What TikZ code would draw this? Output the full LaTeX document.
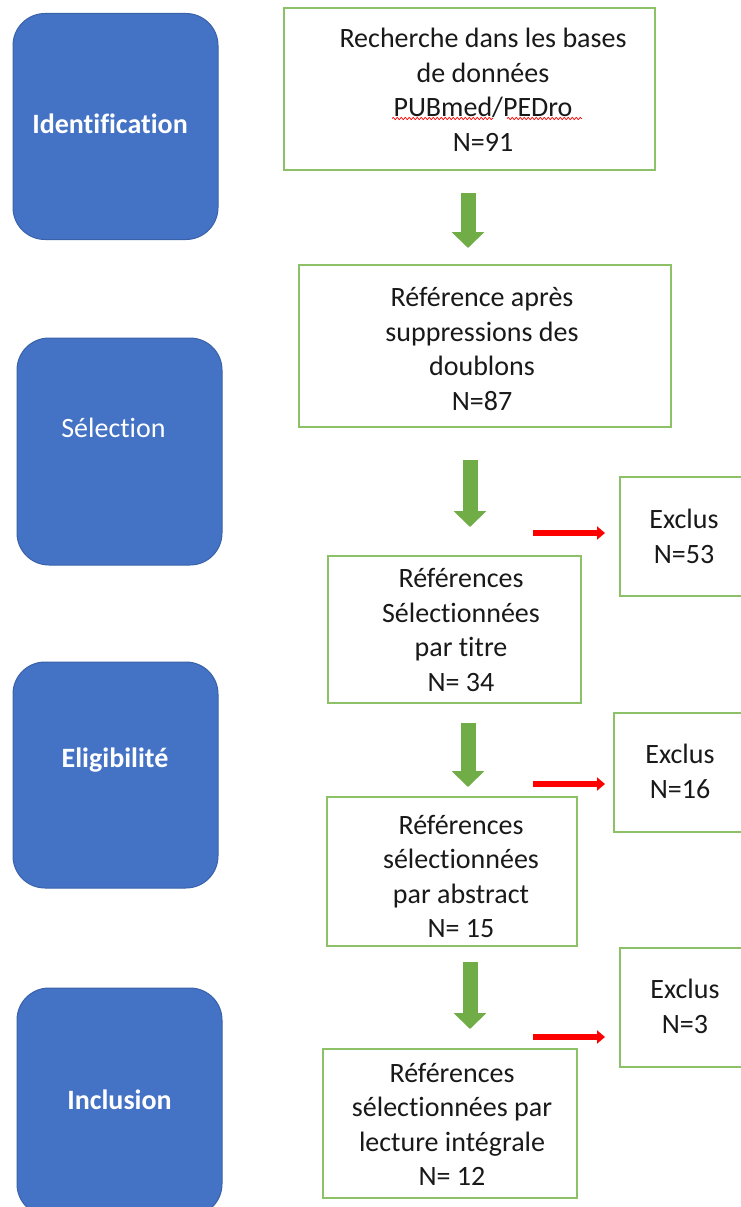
\documentclass[tikz,border=0pt]{standalone}
\usepackage{fontspec}
\setmainfont{Carlito}[Ligatures=NoCommon]
\usetikzlibrary{arrows.meta,decorations.pathmorphing}
\definecolor{bluefill}{HTML}{4472C4}
\definecolor{blueline}{HTML}{3A62AA}
\definecolor{boxgreen}{HTML}{8CC168}
\definecolor{arrowgreen}{HTML}{70AD47}
\definecolor{exred}{HTML}{FF0000}
\tikzset{
  phase/.style={rectangle, rounded corners=32pt, fill=bluefill, draw=blueline, line width=1pt, inner sep=0pt},
  phaselabel/.style={text=white, font=\fontsize{28}{34}\selectfont, inner sep=0pt},
  gbox/.style={rectangle, draw=boxgreen, line width=1.5pt, fill=white, inner sep=0pt},
  txt/.style={align=center, font=\fontsize{28}{34.5}\selectfont, inner sep=0pt, text=black!90},
  flowarrow/.style={draw=arrowgreen, line width=15pt, -{Triangle[width=32pt,length=16pt]}},
  exarrow/.style={draw=exred, line width=6pt, -{Triangle[width=13pt,length=8pt]}},
  squiggle/.style={draw=exred, line width=0.7pt, decorate, decoration={snake, amplitude=1.1pt, segment length=4pt}}
}
\begin{document}
\begin{tikzpicture}[x=1pt,y=-1pt]
\useasboundingbox (0,0) rectangle (740,1207);
% phases
\node[phase, minimum width=205pt, minimum height=226pt] (p1) at (115.5,126.5) {};
\node[phase, minimum width=205pt, minimum height=227pt] (p2) at (119.5,451.5) {};
\node[phase, minimum width=205pt, minimum height=226pt] (p3) at (115.5,775) {};
\node[phase, minimum width=205pt, minimum height=228pt] (p4) at (119.5,1102) {};
\node[phaselabel] (l1) at (110,124) {\textbf{Identification}};
\node[phaselabel] (l2) at (113.5,428) {Sélection};
\node[phaselabel] (l3) at (115,760) {\textbf{Eligibilité}};
\node[phaselabel] (l4) at (119.5,1100) {\textbf{Inclusion}};
% main boxes
\node[gbox, minimum width=371pt, minimum height=162pt] (b1) at (469.5,89) {};
\node[gbox, minimum width=372pt, minimum height=162pt] (b2) at (485,346) {};
\node[gbox, minimum width=253pt, minimum height=147pt] (b3) at (454.5,629.5) {};
\node[gbox, minimum width=250pt, minimum height=149pt] (b4) at (452,871.5) {};
\node[gbox, minimum width=254pt, minimum height=149pt] (b5) at (450,1123.5) {};
\node[txt] (t1) at (483,90) {Recherche dans les bases\\de données\\PUBmed/PEDro\\N=91};
\node[txt] (t2) at (482,349) {Référence après\\suppressions des\\doublons\\N=87};
\node[txt] (t3) at (461,630) {Références\\Sélectionnées\\par titre\\N= 34};
\node[txt] (t4) at (461,876.5) {Références\\sélectionnées\\par abstract\\N= 15};
\node[txt] (t5) at (452,1124.5) {Références\\sélectionnées par\\lecture intégrale\\N= 12};
% excluded boxes
\node[gbox, minimum width=142pt, minimum height=119pt] (e1) at (691,536.5) {};
\node[gbox, minimum width=148pt, minimum height=119pt] (e2) at (688,772.5) {};
\node[gbox, minimum width=142pt, minimum height=119pt] (e3) at (691,1007.5) {};
\node[txt] (x1) at (684,536.5) {Exclus\\N=53};
\node[txt] (x2) at (680,771.5) {Exclus\\N=16};
\node[txt] (x3) at (685,1006.5) {Exclus\\N=3};
% spell-check squiggles
\coordinate (s1a) at (392,118.5); \coordinate (s1b) at (493,118.5);
\coordinate (s2a) at (507,118.5); \coordinate (s2b) at (582,118.5);
\draw[squiggle] (s1a) -- (s1b);
\draw[squiggle] (s2a) -- (s2b);
% green flow arrows
\coordinate (a1s) at (468,193); \coordinate (a1e) at (468,248);
\coordinate (a2s) at (470,460); \coordinate (a2e) at (470,527);
\coordinate (a3s) at (468,723); \coordinate (a3e) at (468,787);
\coordinate (a4s) at (470,962); \coordinate (a4e) at (470,1029);
\draw[flowarrow] (a1s) -- (a1e);
\draw[flowarrow] (a2s) -- (a2e);
\draw[flowarrow] (a3s) -- (a3e);
\draw[flowarrow] (a4s) -- (a4e);
% red exclusion arrows
\coordinate (r1s) at (533,533); \coordinate (r1e) at (605,533);
\coordinate (r2s) at (533,784); \coordinate (r2e) at (605,784);
\coordinate (r3s) at (533,1037); \coordinate (r3e) at (605,1037);
\draw[exarrow] (r1s) -- (r1e);
\draw[exarrow] (r2s) -- (r2e);
\draw[exarrow] (r3s) -- (r3e);
\end{tikzpicture}
\end{document}
